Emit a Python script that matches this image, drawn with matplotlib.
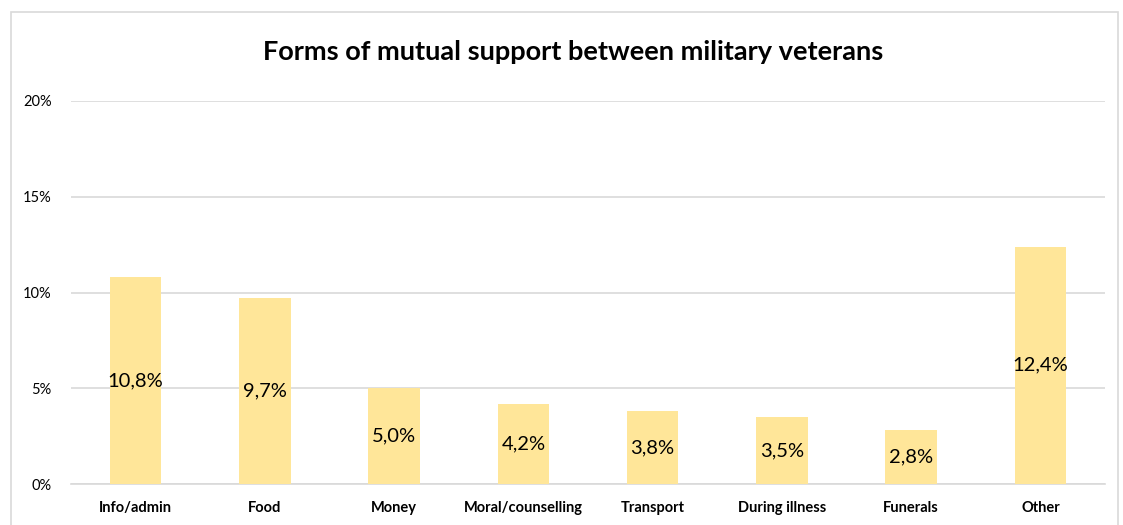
import matplotlib
matplotlib.use("Agg")
import matplotlib.pyplot as plt
from matplotlib.patches import Rectangle

categories = ["Info/admin", "Food", "Money", "Moral/counselling", "Transport",
              "During illness", "Funerals", "Other"]
values = [10.8, 9.7, 5.0, 4.2, 3.8, 3.5, 2.8, 12.4]
value_labels = ["10,8%", "9,7%", "5,0%", "4,2%", "3,8%", "3,5%", "2,8%", "12,4%"]
yticks = [0, 5, 10, 15, 20]
ytick_labels = ["0%", "5%", "10%", "15%", "20%"]
title = "Forms of mutual support between military veterans"

plt.rcParams['font.family'] = ['Lato', 'DejaVu Sans']

fig = plt.figure(figsize=(11.23, 5.25), dpi=100)
ax = fig.add_axes([71/1123, 41/525, (1105-71)/1123, (484-101)/525])

x = list(range(len(categories)))
bars = ax.bar(x, values, width=0.4, color="#FFE699", zorder=3)
for xi, v, lab in zip(x, values, value_labels):
    ax.text(xi, v/2, lab, ha="center", va="center", fontsize=14.5, color="#000000", zorder=4)

ax.set_xlim(-0.5, len(categories)-0.5)
ax.set_ylim(0, 20)
ax.set_yticks(yticks)
ax.set_yticklabels(ytick_labels, fontsize=10.5)
ax.set_xticks(x)
ax.set_xticklabels(categories, fontsize=10.5, fontweight="bold")
ax.tick_params(axis="x", length=0, pad=12)
ax.tick_params(axis="y", length=0, pad=14)
ax.grid(axis="y", color="#D9D9D9", linewidth=1.2, zorder=0)
for s in ["top", "right", "left"]:
    ax.spines[s].set_visible(False)
ax.spines["bottom"].set_color("#D9D9D9")
ax.spines["bottom"].set_linewidth(1.2)

fig.text(573/1123, 1-52/525, title, ha="center", va="center", fontsize=19.5, fontweight="bold")

fig.patches.append(Rectangle((11/1123, -0.05), (1118-11)/1123, 1-12/525+0.05,
                             transform=fig.transFigure, fill=False,
                             edgecolor="#D9D9D9", linewidth=1.2, figure=fig))

fig.savefig("out.png", dpi=100)
